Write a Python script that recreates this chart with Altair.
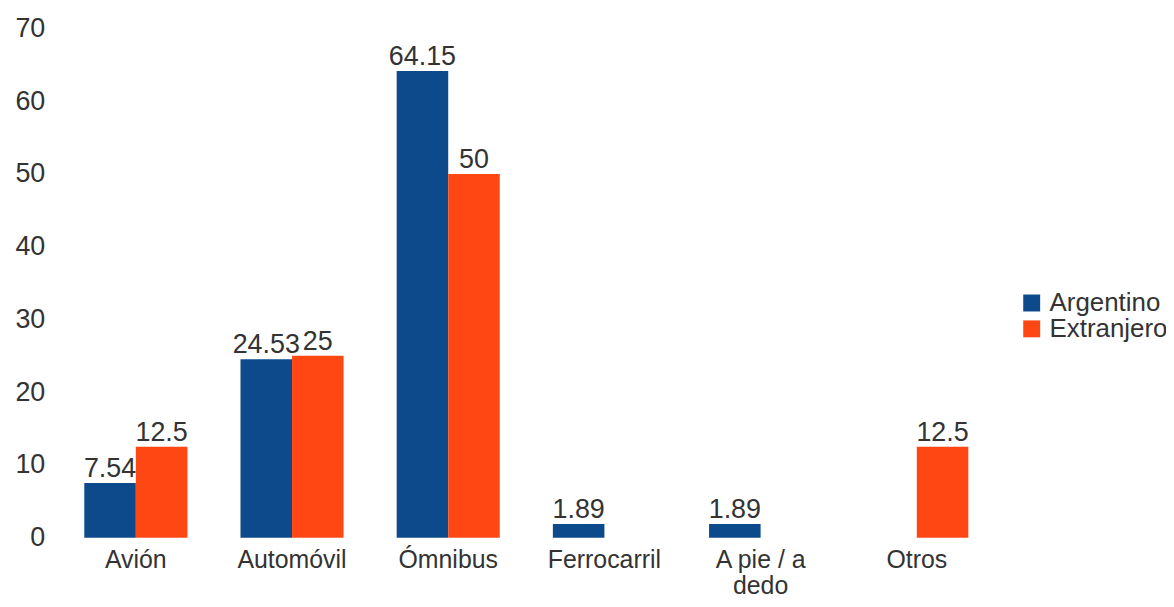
import altair as alt
import pandas as pd

categories = ["Avión", "Automóvil", "Ómnibus", "Ferrocarril", "A pie / a dedo", "Otros"]
series = ["Argentino", "Extranjero"]
argentino = [7.54, 24.53, 64.15, 1.89, 1.89, None]
extranjero = [12.5, 25, 50, None, None, 12.5]
colors = ["#0c4a8c", "#ff4714"]

rows = []
for c, a, e in zip(categories, argentino, extranjero):
    rows.append({"categoria": c, "serie": series[0], "valor": a})
    rows.append({"categoria": c, "serie": series[1], "valor": e})
df = pd.DataFrame(rows)
df = df[df["valor"].notna()]

FONT = "Liberation Sans"
FS = 27
TXT = "#333333"

x = alt.X("categoria:N", sort=categories, title=None,
          scale=alt.Scale(paddingInner=0.34, paddingOuter=0.17),
          axis=alt.Axis(labelAngle=0, ticks=False, domain=False, labelPadding=10,
                        labelFontSize=25, labelFont=FONT, labelColor=TXT,
                        labelExpr="datum.label == 'A pie / a dedo' ? ['A pie / a', 'dedo'] : datum.label",
                        labelLineHeight=26))
xo = alt.XOffset("serie:N", scale=alt.Scale(domain=series, paddingInner=0, paddingOuter=0))
y = alt.Y("valor:Q", title=None,
          scale=alt.Scale(domain=[0, 70], nice=False),
          axis=alt.Axis(values=[0, 10, 20, 30, 40, 50, 60, 70], grid=False, ticks=False,
                        domain=False, labelPadding=13, labelFontSize=FS, labelFont=FONT,
                        labelColor=TXT))

bars = alt.Chart(df).mark_bar().encode(
    x=x, xOffset=xo, y=y,
    color=alt.Color("serie:N", scale=alt.Scale(domain=series, range=colors),
                    legend=alt.Legend(title=None, orient="none", legendX=966, legendY=263,
                                      symbolType="square", symbolSize=290,
                                      symbolStrokeWidth=0, labelFontSize=26, labelFont=FONT,
                                      labelColor=TXT, rowPadding=0, labelOffset=5,
                                      symbolOffset=0, padding=0))
)

labels = alt.Chart(df).mark_text(baseline="alphabetic", dy=-6, fontSize=FS, font=FONT,
                                 color=TXT).encode(
    x=x, xOffset=xo, y=y,
    text=alt.Text("valor:Q", format="~r")
)

chart = alt.layer(bars, labels).properties(
    width=942, height=512,
    autosize=alt.AutoSizeParams(type="none"),
    padding={"left": 50, "top": 19, "right": 172, "bottom": 60},
).configure_view(stroke=None)

chart.save("out.html", embed_options={"renderer": "svg", "actions": False})
